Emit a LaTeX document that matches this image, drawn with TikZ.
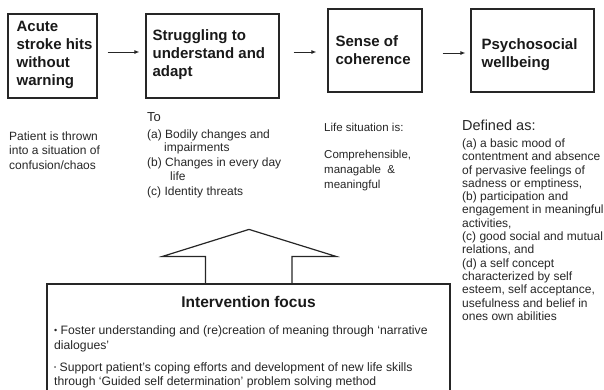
\documentclass[tikz,border=0pt]{standalone}
\usepackage{fontspec}
\setmainfont{Liberation Sans}
\usetikzlibrary{arrows.meta,calc}
\begin{document}
\begin{tikzpicture}[x=1pt,y=-1pt,
  box/.style={draw=black!85,line width=1.2pt,inner sep=0pt},
  ttl/.style={font=\bfseries\fontsize{15}{18}\selectfont,align=left,inner sep=0pt,anchor=west,text=black!90},
  small/.style={font=\fontsize{12}{14.5}\selectfont,align=left,inner sep=0pt,anchor=north west,text=black!85},
  head/.style={font=\fontsize{14}{16}\selectfont,inner sep=0pt,anchor=north west,text=black!85},
  arr/.style={-{Latex[length=5pt,width=4pt]},line width=0.9pt,draw=black!85}]
\useasboundingbox (0,0) rectangle (604,389);
\clip (0,0) rectangle (604,389);
% top boxes
\node[box,minimum width=89pt,minimum height=84pt] (b1) at (52.5,56) {};
\node[box,minimum width=133pt,minimum height=84pt] (b2) at (212.5,56) {};
\node[box,minimum width=94pt,minimum height=83pt] (b3) at (375,50.5) {};
\node[box,minimum width=123pt,minimum height=83pt] (b4) at (532.5,50.5) {};
\node[ttl] (t1) at ([xshift=9pt,yshift=1pt]b1.west) {Acute\\stroke hits\\without\\warning};
\node[ttl] (t2) at ([xshift=7pt,yshift=1pt]b2.west) {Struggling to\\understand and\\adapt};
\node[ttl] (t3) at ([xshift=8pt]b3.west) {Sense of\\coherence};
\node[ttl] (t4) at ([xshift=11pt,yshift=-4.5pt]b4.west) {Psychosocial\\wellbeing};
% arrows
\draw[arr] ([xshift=10pt,yshift=4pt]b1.east) -- ([xshift=-6pt,yshift=4pt]b1.east -| b2.west);
\draw[arr] ([xshift=14pt,yshift=4pt]b2.east) -- ([xshift=-11pt,yshift=4pt]b2.east -| b3.west);
\draw[arr] ([xshift=20pt,yshift=-2.5pt]b3.east) -- ([xshift=-5pt,yshift=-2.5pt]b3.east -| b4.west);
% texts under boxes
\node[small] (p1) at (9,131.5) {Patient is thrown\\into a situation of\\confusion/chaos};
\node[head,font=\fontsize{13}{15}\selectfont] (to) at (147,112) {To};
\node[small,font=\fontsize{12}{13.5}\selectfont] (l2) at (147,129.5) {(a) Bodily changes and\\\hspace*{17pt}impairments\\[1.5pt](b) Changes in every day\\\hspace*{23pt}life\\[2pt](c) Identity threats};
\node[small,font=\fontsize{11.5}{15}\selectfont] (l3) at (324,122.5) {Life situation is:\\[12.5pt]Comprehensible,\\managable~~\&\\meaningful};
\node[head,font=\fontsize{14.5}{16}\selectfont] (def) at (462,120) {Defined as:};
\node[small,font=\fontsize{12}{13.3}\selectfont] (l4) at (462,138.5) {(a) a basic mood of\\contentment and absence\\of pervasive feelings of\\sadness or emptiness,\\(b) participation and\\engagement in meaningful\\activities,\\(c) good social and mutual\\relations, and\\(d) a self concept\\characterized by self\\esteem, self acceptance,\\usefulness and belief in\\ones own abilities};
% intervention box
\node[box,minimum width=403pt,minimum height=130pt] (ib) at (248.5,349) {};
\draw[line width=1.2pt,draw=black!85,line join=miter] ($(ib.north)+(-43,0)$) -- ++(0,-27) -- ++(-43,0) -- ($(ib.north)+(0.5,-54)$) -- ($(ib.north)+(87.5,-27)$) -- ++(-44,0) -- ++(0,27);
\node[font=\bfseries\fontsize{15.5}{18}\selectfont,inner sep=0pt,text=black!90] (it) at (248.5,302) {Intervention focus};
\node[small,font=\fontsize{12.2}{14.5}\selectfont] (il) at (54,325.5) {{\fontsize{9}{9}\selectfont\raisebox{1pt}{\textbullet}} Foster understanding and (re)creation of meaning through `narrative\\dialogues'\\[7.5pt]{\fontsize{6}{6}\selectfont\raisebox{1.5pt}{\textbullet}} Support patient's coping efforts and development of new life skills\\through `Guided self determination' problem solving method};
\end{tikzpicture}
\end{document}
